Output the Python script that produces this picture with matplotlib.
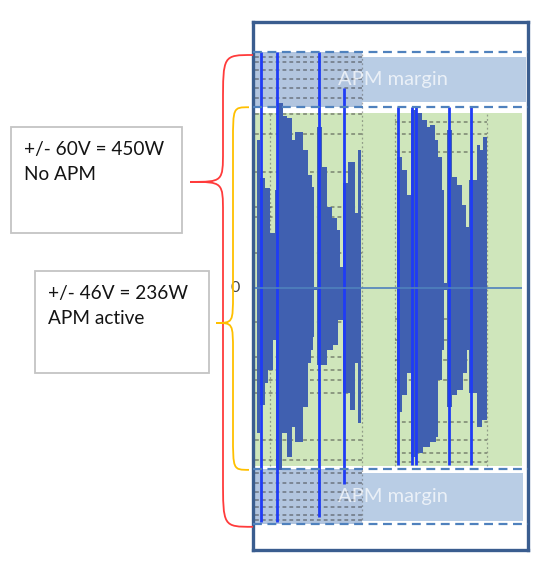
import matplotlib

matplotlib.use("Agg")
import matplotlib.pyplot as plt  # noqa: E402
from matplotlib.patches import Rectangle, PathPatch  # noqa: E402
from matplotlib.path import Path  # noqa: E402

plt.rcParams["font.family"] = ["Lato", "DejaVu Sans"]

# voltage limits (V)
LIMIT_NO_APM = 60
LIMIT_APM = 46
GREEN_TOP = 44.5
GREEN_BOT = -45.3

# amplifier output envelope, time in ms (step start), volts
t_upper = [4, 7, 12, 17, 22, 25, 30, 34, 39, 42, 50, 55, 59, 61, 64, 69, 74, 79, 84, 87,
           90, 95, 102, 105, 108,
           144, 149, 154, 158, 164, 169, 174, 177, 182, 185, 189, 191, 194, 199, 204, 209,
           213, 216, 224, 227, 230, 234]
v_upper = [37.7, 28.0, 25.4, 14.0, 24.9, 47.1, 43.8, 43.3, 37.7, 39.7, 35.1, 28.8, 25.7,
           0.3, 41.0, 30.8, 20.6, 17.8, 14.8, 5.3, 26.7, 32.1, 19.1, 35.1, 0,
           33.3, 30.0, 23.7, 45.3, 44.5, 42.7, 41.0, 41.5, 37.7, 33.3, 24.9, 1.3, 40.2,
           28.2, 26.2, 21.1, 15.5, 27.5, 36.4, 35.1, 38.4, 0]
t_lower = [4, 7, 12, 15, 20, 23, 29, 34, 39, 42, 50, 55, 58, 60, 61, 64, 74, 80, 85, 90,
           97, 102, 105, 108,
           144, 149, 154, 158, 164, 170, 177, 183, 185, 189, 191, 194, 199, 204, 210,
           214, 216, 224, 229, 234]
v_lower = [-36.9, -29.8, -24.2, -20.9, -13.2, -46.3, -36.9, -43.0, -35.4, -39.2, -30.3,
           -19.1, -15.8, -12.5, -0.5, -19.6, -15.8, -14.5, -8.1, -26.7, -31.0, -19.1,
           -34.4, 0,
           -31.6, -27.2, -21.6, -43.0, -42.0, -40.5, -39.2, -37.9, -23.4, -15.8, -0.5,
           -30.3, -27.2, -26.0, -21.6, -15.8, -26.7, -35.4, -33.6, 0]

# clipping peaks
spike_t = [8, 24, 66, 91, 145, 159, 163, 196, 218]
spike_hi = [60, 60, 60, 51, 46, 46, 46, 46, 46]
spike_lo = [-59.5, -59.5, -58.3, -50, -45, -45, -45, -45, -45]

# scope grid of the overlaid captures
grid1 = [58.8, 57.5, 55.5, 53.2, 50.9, 48.3, 44.3, 39.2, 29.5, 20.6, 18.1, 8.9, -8.7,
         -17.6, -20.9, -23.4, -26.7, -38.7, -43.8, -47.1, -49.6, -51.9, -53.9, -55.7,
         -57.8, -59.0]
grid2 = [42.2, 39.2, 34.6, -7.9, -13.2, -18.3, -23.4, -34.1, -38.7, -42.0, -44.3]
grid_x = [17, 109, 142, 234]

box_texts = ["+/- 60V = 450W\nNo APM", "+/- 46V = 236W\nAPM active"]

W, H = 555, 579
fig = plt.figure(figsize=(W / 100, H / 100), dpi=100)

# background layer in pixels for the text boxes
bg = fig.add_axes([0, 0, 1, 1])
bg.set_xlim(0, W)
bg.set_ylim(H, 0)
bg.axis("off")
for (x0, y0, w, h), txt in zip([(11, 127, 171, 106), (35, 271, 174, 102)], box_texts):
    bg.add_patch(Rectangle((x0, y0), w, h, fill=False, ec="#c4c4c4", lw=1.3))
    bg.text(x0 + 13, y0 + 14.5, txt, fontsize=13.7, color="#141414", va="top",
            linespacing=1.55)

ax = fig.add_axes([253 / W, (H - 550) / H, 275 / W, 528 / H])
ax.set_xlim(0, 275)
ax.set_ylim(-66.7, 67.7)
ax.set_xticks([])
ax.set_yticks([])
for s in ax.spines.values():
    s.set_color("#3a5d8f")
    s.set_linewidth(2.4)

# APM active window and margins
ax.add_patch(Rectangle((2, GREEN_BOT), 267, GREEN_TOP - GREEN_BOT, fc="#cfe6bb", ec="none", zorder=0))
ax.add_patch(Rectangle((2, 47.3), 271, 11.5, fc="#b9cde5", ec="none", zorder=0.5))
ax.add_patch(Rectangle((2, -59.3), 268, 12.2, fc="#b9cde5", ec="none", zorder=0.5))
ax.add_patch(Rectangle((2, LIMIT_APM), 107, LIMIT_NO_APM - LIMIT_APM, fc="#b2c5df", ec="none", zorder=0.5))
ax.add_patch(Rectangle((2, -LIMIT_NO_APM), 107, LIMIT_NO_APM - LIMIT_APM, fc="#b2c5df", ec="none", zorder=0.5))

for v in grid1:
    ax.hlines(v, 2, 109, color="#333333", lw=1.1, ls=(0, (2.5, 2)), alpha=0.55, zorder=1)
for v in grid2:
    ax.hlines(v, 142, 234, color="#333333", lw=1.1, ls=(0, (2.5, 2)), alpha=0.55, zorder=1)
for x in grid_x:
    ax.vlines(x, -LIMIT_NO_APM if x == 109 else GREEN_BOT,
              LIMIT_NO_APM if x == 109 else GREEN_TOP,
              color="#555555", lw=0.9, ls=(0, (1.5, 2)), alpha=0.5, zorder=1)

# waveform
ax.fill_between(t_upper, 0, v_upper, step="post", color="#4060b0", lw=0, zorder=2)
ax.fill_between(t_lower, v_lower, 0, step="post", color="#4060b0", lw=0, zorder=2)
ax.vlines(spike_t, spike_lo, spike_hi, color="#1f3cf5", lw=2.0, zorder=4)

ax.hlines(0, 2, 269, color="#4f81bd", lw=1.2, zorder=4)
for v in [LIMIT_NO_APM, LIMIT_APM, -LIMIT_APM, -LIMIT_NO_APM]:
    ax.axhline(v, color="#4f81bd", lw=1.6, ls=(0, (4, 2.5)), zorder=5)

for v in [53, -53.2]:
    ax.text(140, v, "APM margin", fontsize=14.5, color="white", alpha=0.7,
            ha="center", va="center", zorder=6)

ax.text(-18, 0, "0", fontsize=11.5, color="#404040", ha="center", va="center")


def brace(x_end, x_mid, x_tip, top, bot, tip, r_end, r_tip, color):
    verts = [(x_end, top), (x_mid, top), (x_mid, top), (x_mid, top - r_end),
             (x_mid, tip + r_tip),
             (x_mid, tip), (x_mid, tip), (x_tip, tip),
             (x_mid, tip), (x_mid, tip), (x_mid, tip - r_tip),
             (x_mid, bot + r_end),
             (x_mid, bot), (x_mid, bot), (x_end, bot)]
    codes = [Path.MOVETO, Path.CURVE4, Path.CURVE4, Path.CURVE4, Path.LINETO,
             Path.CURVE4, Path.CURVE4, Path.CURVE4,
             Path.CURVE4, Path.CURVE4, Path.CURVE4, Path.LINETO,
             Path.CURVE4, Path.CURVE4, Path.CURVE4]
    ax.add_patch(PathPatch(Path(verts, codes), fc="none", ec=color, lw=1.3, clip_on=False, zorder=7))


brace(0, -30, -63, 59.3, -60.8, 27, 12.5, 8, "#ff3b3b")
brace(-4, -20, -37, 46, -46.3, -8.9, 9, 7.5, "#ffc000")

fig.savefig("out.png", dpi=100)
